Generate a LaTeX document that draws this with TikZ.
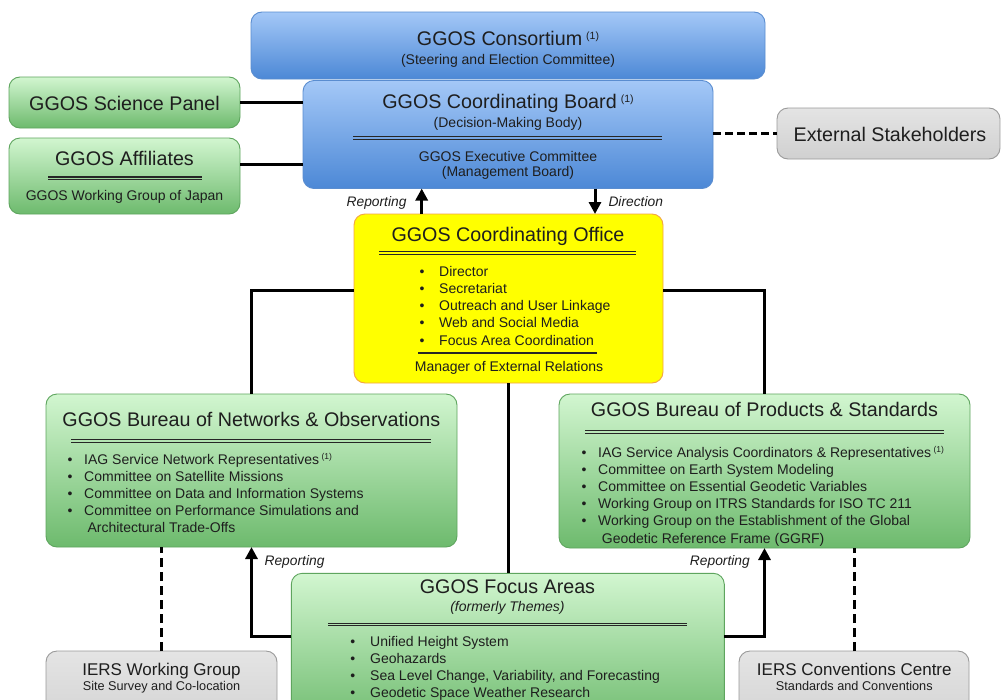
\documentclass[tikz,border=0pt]{standalone}
\usepackage{fontspec}
\setmainfont{Liberation Sans}
\usetikzlibrary{arrows.meta}

\definecolor{bluetop}{HTML}{A4C8F7}
\definecolor{bluebot}{HTML}{4C88D6}
\definecolor{blueline}{HTML}{5A8DD0}
\definecolor{greentop}{HTML}{D2F6D0}
\definecolor{greenbot}{HTML}{6DBA6D}
\definecolor{greenline}{HTML}{5EA55E}
\definecolor{greytop}{HTML}{E4E4E4}
\definecolor{greybot}{HTML}{D0D0D0}
\definecolor{greyline}{HTML}{9A9A9A}
\definecolor{officefill}{HTML}{FFFF00}
\definecolor{officeline}{HTML}{F2A444}
\definecolor{ink}{HTML}{1E1E1E}

\newcommand\ttlsize{\fontsize{19.7}{22}\selectfont}
\newcommand\txtsize{\fontsize{14}{16}\selectfont}
\newcommand\fnmark{\hspace{4pt}\raisebox{6pt}{\fontsize{10.5}{11}\selectfont(1)}}
\newcommand\fnmarksm{\,\raisebox{5pt}{\fontsize{8.5}{9}\selectfont(1)}}
% double rule inside a box: from x=#1 to x=#2 at height #3
\newcommand\dblrule[3]{%
  \draw[rulea] (#1,#3-1.3) -- (#2,#3-1.3);
  \draw[ruleb] (#1,#3+1.3) -- (#2,#3+1.3);}

\tikzset{
  rbox/.style={rounded corners=11pt, line width=0.9pt, inner sep=0pt, outer sep=0pt},
  bluebox/.style={rbox, draw=blueline, top color=bluetop, bottom color=bluebot},
  greenbox/.style={rbox, draw=greenline, top color=greentop, bottom color=greenbot},
  greybox/.style={rbox, draw=greyline, top color=greytop, bottom color=greybot},
  yellowbox/.style={rbox, draw=officeline, fill=officefill},
  ttl/.style={font=\ttlsize, text=ink, inner sep=0pt, anchor=base},
  txt/.style={font=\txtsize, text=ink, inner sep=0pt, anchor=base},
  itm/.style={font=\txtsize, text=ink, inner sep=0pt, anchor=base west},
  iers/.style={font=\fontsize{17}{19}\selectfont, text=ink, inner sep=0pt, anchor=base},
  iersub/.style={font=\fontsize{12.7}{14}\selectfont, text=ink, inner sep=0pt, anchor=base},
  lbl/.style={font=\fontsize{13.8}{16}\selectfont\itshape, text=ink, inner sep=0pt},
  conn/.style={line width=3pt, draw=black},
  dconn/.style={conn, dash pattern=on 9pt off 5pt},
  arr/.style={conn, -{Triangle[length=12pt,width=12pt]}},
  rulea/.style={line width=1.4pt, draw=black!85},
  ruleb/.style={line width=0.9pt, draw=black!85},
  rulec/.style={line width=1.2pt, draw=black!85},
}

\begin{document}
\begin{tikzpicture}[x=1pt, y=-1pt]
\useasboundingbox (0,0) rectangle (1001,699);
\clip (0,0) rectangle (1001,699);
\fill[white] (0,0) rectangle (1001,699);

% ---- boxes ----
\node[bluebox, minimum width=514pt, minimum height=67pt] (cons) at (508,45.5) {};
\node[bluebox, minimum width=410pt, minimum height=108pt] (board) at (508,134.5) {};
\node[greenbox, minimum width=231pt, minimum height=51pt] (sci) at (124.5,102.5) {};
\node[greenbox, minimum width=231pt, minimum height=76pt] (aff) at (124.5,176) {};
\node[greybox, minimum width=223pt, minimum height=51pt] (ext) at (888.5,133.5) {};
\node[yellowbox, minimum width=309pt, minimum height=169pt] (office) at (508.5,298.5) {};
\node[greenbox, minimum width=411pt, minimum height=153pt] (bnet) at (251.5,470.5) {};
\node[greenbox, minimum width=411pt, minimum height=154pt] (bps) at (764.5,471) {};
\node[greenbox, minimum width=433pt, minimum height=156pt] (focus) at (507.8,651.3) {};
\node[greybox, minimum width=231pt, minimum height=89pt] (iwg) at (161.5,695.5) {};
\node[greybox, minimum width=230pt, minimum height=89pt] (icc) at (854,695.5) {};

% ---- connectors ----
\draw[conn] (sci.east) -- (sci.east -| board.west);
\draw[conn] ([yshift=12pt]aff.east) -- ([yshift=12pt]aff.east -| board.west);
\draw[dconn, dash pattern=on 8pt off 4pt] (board.east |- ext.west) -- (ext.west);
\draw[arr] ([xshift=-86.8pt]office.north) -- ([xshift=-86.8pt]office.north |- board.south);
\draw[arr] ([xshift=87pt]board.south) -- ([xshift=87pt]board.south |- office.north);
\draw[conn] ([yshift=8.5pt]office.west) -| (bnet.north);
\draw[conn] ([yshift=8.5pt]office.east) -| (bps.north);
\draw[conn] (office.south) -- (office.south |- focus.north);
\draw[arr] ([yshift=14.5pt]focus.west) -| (bnet.south);
\draw[arr] ([yshift=14.5pt]focus.east) -| (bps.south);
\draw[dconn] (iwg.north) -- (iwg.north |- bnet.south);
\draw[dconn] (icc.north) -- (icc.north |- bps.south);

% ---- connector labels ----
\node[lbl, anchor=base east] (repA) at (406.7,206.7) {Reporting};
\node[lbl, anchor=base west] (dirA) at (608.3,206.7) {Direction};
\node[lbl, anchor=base west] (repB) at (264.4,565.3) {Reporting};
\node[lbl, anchor=base east] (repC) at (750,565.3) {Reporting};

% ---- consortium ----
\node[ttl] (consT) at (508,45) {GGOS Consortium\fnmark};
\node[txt] (consS) at (508,64.3) {(Steering and Election Committee)};

% ---- coordinating board ----
\node[ttl] (boardT) at (508,108.3) {GGOS Coordinating Board\fnmark};
\node[txt] (boardS) at (508,127.3) {(Decision-Making Body)};
\dblrule{353}{662}{138}
\node[txt] (execT) at (508,161) {GGOS Executive Committee};
\node[txt] (execS) at (508,176.7) {(Management Board)};

% ---- side panels ----
\node[ttl] (sciT) at (124.5,110) {GGOS Science Panel};
\node[ttl] (affT) at (124.5,165.5) {GGOS Affiliates};
\dblrule{48}{202}{178.3}
\node[txt] (affS) at (124.5,200.5) {GGOS Working Group of Japan};
\node[ttl] (extT) at (890,141.5) {External Stakeholders};

% ---- coordinating office ----
\node[ttl] (offT) at (508,241.5) {GGOS Coordinating Office};
\dblrule{379}{636}{253}
\foreach \t [count=\i] in {Director, Secretariat, Outreach and User Linkage,
    Web and Social Media, Focus Area Coordination} {
  \node[txt] (offb\i) at (422,276+17.25*\i-17.25) {•};
  \node[itm] (offi\i) at (439,276+17.25*\i-17.25) {\t};
}
\draw[rulec] (418,353) -- (597,353);
\node[txt] (offM) at (509,371.5) {Manager of External Relations};

% ---- bureau of networks & observations ----
\node[ttl] (bnetT) at (251.3,426) {GGOS Bureau of Networks \& Observations};
\dblrule{71}{431}{441}
\foreach \t [count=\i] in {IAG Service Network Representatives\fnmarksm,
    Committee on Satellite Missions, Committee on Data and Information Systems,
    Committee on Performance Simulations and} {
  \node[txt] (bnetb\i) at (70,464+17.25*\i-17.25) {•};
  \node[itm] (bneti\i) at (84,464+17.25*\i-17.25) {\t};
}
\node[itm] (bneti5) at (87.3,532.7) {Architectural Trade-Offs};

% ---- bureau of products & standards ----
\node[ttl] (bpsT) at (764.5,416) {GGOS Bureau of Products \& Standards};
\dblrule{585}{944}{432}
\foreach \t [count=\i] in {IAG Service Analysis Coordinators \& Representatives\fnmarksm,
    Committee on Earth System Modeling, Committee on Essential Geodetic Variables,
    Working Group on ITRS Standards for ISO TC 211,
    Working Group on the Establishment of the Global} {
  \node[txt] (bpsb\i) at (584,457.3+17.15*\i-17.15) {•};
  \node[itm] (bpsi\i) at (598,457.3+17.15*\i-17.15) {\t};
}
\node[itm] (bpsi6) at (601.7,543) {Geodetic Reference Frame (GGRF)};

% ---- focus areas ----
\node[ttl] (focT) at (507.5,593.3) {GGOS Focus Areas};
\node[txt, font=\txtsize\itshape] (focS) at (507.5,611.7) {(formerly Themes)};
\dblrule{328}{687}{624.5}
\foreach \t [count=\i] in {Unified Height System, Geohazards,
    {Sea Level Change, Variability, and Forecasting},
    Geodetic Space Weather Research} {
  \node[txt] (focb\i) at (352.7,646+17.2*\i-17.2) {•};
  \node[itm] (foci\i) at (370,646+17.2*\i-17.2) {\t};
}

% ---- IERS boxes ----
\node[iers] (iwgT) at (161.5,675) {IERS Working Group};
\node[iersub] (iwgS) at (161.5,690.7) {Site Survey and Co-location};
\node[iers] (iccT) at (854.3,675) {IERS Conventions Centre};
\node[iersub] (iccS) at (854.3,690.7) {Standards and Conventions};
\end{tikzpicture}
\end{document}
